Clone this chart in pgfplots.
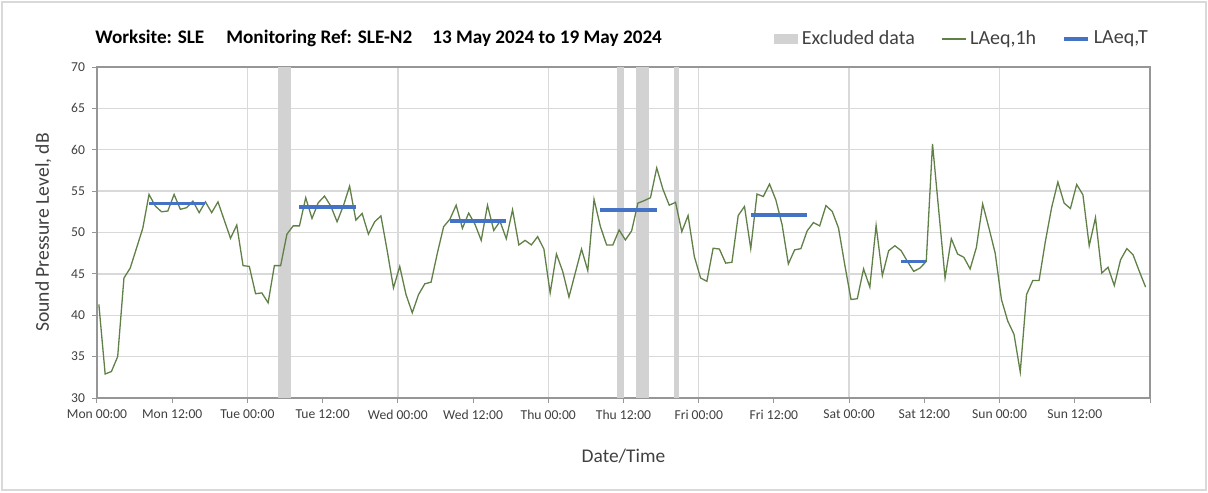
\documentclass[border=0pt]{standalone}
\usepackage{fontspec}
\setmainfont{Carlito}
\usepackage{pgfplots}
\usepackage{pgfplotstable}
\pgfplotsset{compat=1.18}

\definecolor{lgreen}{RGB}{96,128,72}
\definecolor{lblue}{RGB}{68,114,196}
\definecolor{band}{RGB}{210,210,210}
\definecolor{gridc}{RGB}{217,217,217}
\definecolor{axisc}{RGB}{150,150,150}
\definecolor{txt}{RGB}{64,64,64}

% hourly LAeq,1h, hour index from Mon 00:00
\pgfplotstableread{
h v
0 41.3
1 32.9
2 33.2
3 35.0
4 44.5
5 45.7
6 48.1
7 50.5
8 54.6
9 53.2
10 52.5
11 52.6
12 54.6
13 52.8
14 53.0
15 53.8
16 52.4
17 53.7
18 52.4
19 53.7
20 51.5
21 49.3
22 50.9
23 46.0
24 45.9
25 42.6
26 42.7
27 41.5
28 46.0
29 46.0
30 49.8
31 50.8
32 50.8
33 54.2
34 51.7
35 53.6
36 54.4
37 53.2
38 51.3
39 53.2
40 55.6
41 51.5
42 52.3
43 49.8
44 51.3
45 52.0
46 47.8
47 43.3
48 45.9
49 42.5
50 40.3
51 42.5
52 43.8
53 44.0
54 47.5
55 50.7
56 51.6
57 53.3
58 50.5
59 52.35
60 51.0
61 49.05
62 53.3
63 50.25
64 51.35
65 49.25
66 52.75
67 48.5
68 49.05
69 48.5
70 49.5
71 48.0
72 42.7
73 47.4
74 45.3
75 42.2
76 45.1
77 48.0
78 45.4
79 54.0
80 50.75
81 48.5
82 48.5
83 50.3
84 49.1
85 50.2
86 53.55
87 53.85
88 54.2
89 57.8
90 55.2
91 53.3
92 53.65
93 50.1
94 52.05
95 47.1
96 44.5
97 44.1
98 48.1
99 48.0
100 46.3
101 46.4
102 52.05
103 53.15
104 48.05
105 54.65
106 54.35
107 55.85
108 53.95
109 50.95
110 46.2
111 47.9
112 48.05
113 50.2
114 51.2
115 50.8
116 53.25
117 52.55
118 50.55
119 46.1
120 41.9
121 42.0
122 45.6
123 43.4
124 50.85
125 44.8
126 47.8
127 48.4
128 47.8
129 46.5
130 45.3
131 45.7
132 46.5
133 60.7
134 52.6
135 44.5
136 49.25
137 47.4
138 47.0
139 45.6
140 48.2
141 53.45
142 50.55
143 47.5
144 41.9
145 39.3
146 37.7
147 33.15
148 42.5
149 44.2
150 44.2
151 48.9
152 53.0
153 56.1
154 53.55
155 52.9
156 55.8
157 54.55
158 48.4
159 51.8
160 45.1
161 45.8
162 43.6
163 46.7
164 48.05
165 47.3
166 45.3
167 43.4
}\hourly

% LAeq,T daytime periods
\pgfplotstableread{
h v
8 53.5
17 53.5
17.5 nan
32 53.1
41 53.1
41.5 nan
56 51.4
65 51.4
65.5 nan
80 52.75
89 52.75
89.5 nan
104 52.15
113 52.15
113.5 nan
128 46.5
132 46.5
}\period

\begin{document}
\begin{tikzpicture}
\useasboundingbox (-48.5pt,-47pt) rectangle (555.5pt,199pt);
\draw[gray!30, line width=0.6pt] (-47.5pt,-46pt) rectangle (554.5pt,198pt);
\begin{axis}[at={(0pt,0pt)}, anchor=south west, scale only axis,
	width=526.5pt, height=165.5pt,
	xmin=0, xmax=168, ymin=30, ymax=70,
	xtick={0,12,...,168},
	xticklabels={Mon 00:00,Mon 12:00,Tue 00:00,Tue 12:00,Wed 00:00,Wed 12:00,Thu 00:00,Thu 12:00,Fri 00:00,Fri 12:00,Sat 00:00,Sat 12:00,Sun 00:00,Sun 12:00,{}},
	ytick={30,35,...,70},
	minor xtick={24,48,...,144}, xminorgrids, minor tick length=0pt,
	minor grid style={gridc, line width=0.7pt},
	ymajorgrids, major grid style={gridc, line width=0.7pt},
	tick align=outside, major tick length=2.5pt, tick style={axisc, line width=0.5pt},
	xtick pos=bottom, ytick pos=left,
	axis line style={axisc, line width=0.7pt},
	tick label style={font=\fontsize{6.8}{8}\selectfont, text=txt},
	/pgf/number format/assume math mode=true,
	xlabel={Date/Time}, ylabel={Sound Pressure Level, dB},
	xlabel style={font=\fontsize{9.7}{11}\selectfont, text=txt, at={(0.5,0)}, yshift=-22pt},
	ylabel style={font=\fontsize{9.8}{11}\selectfont, text=txt, yshift=3pt},
	unbounded coords=jump,
	legend columns=3,
	legend style={at={(1.002,1.085)}, anchor=east, draw=none, fill=none,
		inner sep=0pt, font=\fontsize{10}{11}\selectfont, text=txt,
		/tikz/every even column/.append style={column sep=11pt}},
	legend image code/.code={\draw[#1] (0pt,0pt) -- (12pt,0pt);},
]
\addplot[fill=band, draw=none,
	legend image code/.code={\fill[band] (0pt,-2.6pt) rectangle (12pt,2.6pt);}]
	coordinates {(28.8,30) (30.9,30) (30.9,70) (28.8,70)};
\addlegendentry{Excluded data}
\addplot[fill=band, draw=none, forget plot] coordinates {(83.0,30) (84.0,30) (84.0,70) (83.0,70)};
\addplot[fill=band, draw=none, forget plot] coordinates {(86.0,30) (88.0,30) (88.0,70) (86.0,70)};
\addplot[fill=band, draw=none, forget plot] coordinates {(92.0,30) (92.9,30) (92.9,70) (92.0,70)};
\addplot[lgreen, line width=0.65pt] table[x expr=\thisrow{h}+0.3, y=v] {\hourly};
\addlegendentry{LAeq,1h}
\addplot[lblue, line width=1.8pt] table[x expr=\thisrow{h}+0.3, y=v] {\period};
\addlegendentry{LAeq,T}
\end{axis}
\node[anchor=west, inner sep=0pt, font=\bfseries\fontsize{9.6}{11}\selectfont] at (-1pt,180pt)
	{Worksite: SLE\hspace{11pt}Monitoring Ref: SLE-N2\hspace{10pt}13 May 2024 to 19 May 2024};
\end{tikzpicture}
\end{document}
